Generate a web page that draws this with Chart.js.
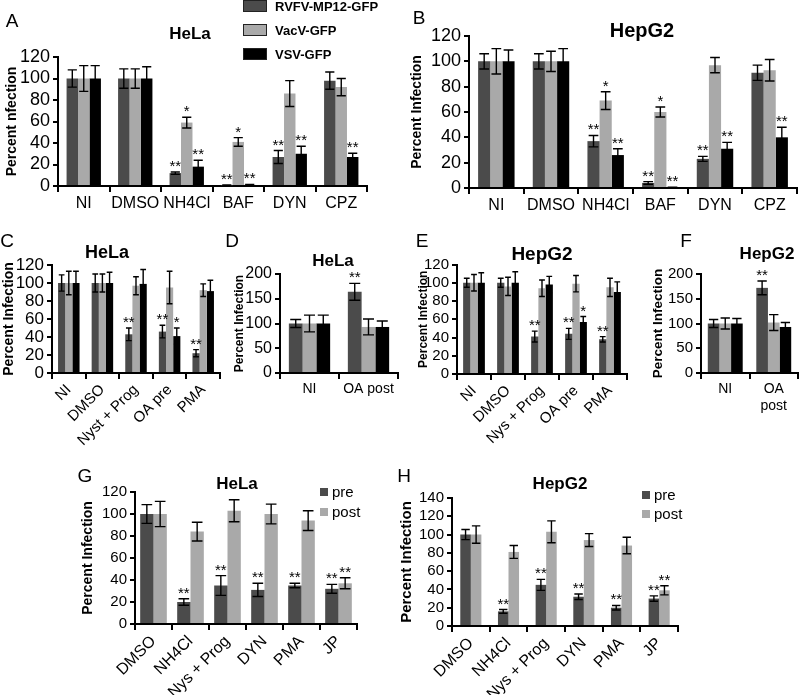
<!DOCTYPE html>
<html>
<head>
<meta charset="utf-8">
<script src="https://cdn.jsdelivr.net/npm/chart.js@4.4.1/dist/chart.umd.min.js"></script>
<style>
  body { margin: 0; background: #fff; }
  #wrap { position: relative; width: 800px; height: 695px; overflow: hidden; font-family: "Liberation Sans", Arial, sans-serif; color: #000; }
  canvas { position: absolute; }
  .lbl { position: absolute; transform: translate(-50%, -50%); white-space: nowrap; line-height: 1; }
  .letter { font-size: 19px; }
  .ttl { font-weight: bold; }
</style>
</head>
<body>
<div id="wrap">
  <canvas id="cA"></canvas>
  <canvas id="cB"></canvas>
  <canvas id="cC"></canvas>
  <canvas id="cD"></canvas>
  <canvas id="cE"></canvas>
  <canvas id="cF"></canvas>
  <canvas id="cG"></canvas>
  <canvas id="cH"></canvas>
</div>
<script>
const DARK = "#4b4b4b";
const LIGHT = "#a9a9a9";
const BLACK = "#000000";
const FONT = "'Liberation Sans', Arial, sans-serif";

const virusNames = ["RVFV-MP12-GFP", "VacV-GFP", "VSV-GFP"];
const timeNames = ["pre", "post"];

// A - HeLa
const catsA = ["NI", "DMSO", "NH4Cl", "BAF", "DYN", "CPZ"];
const rvfvA = [100, 100, 12, 0.6, 27, 98];
const rvfvErrA = [8, 9, 1, 0.3, 6, 8];
const vacvA = [100, 100, 59, 41, 86, 92];
const vacvErrA = [12, 9, 5, 4, 12, 8];
const vsvA = [100, 100, 18, 1, 30, 27];
const vsvErrA = [12, 11, 6, 0.5, 7, 3.5];
const rvfvStarsA = ["", "", "**", "**", "**", ""];
const vacvStarsA = ["", "", "*", "*", "", ""];
const vsvStarsA = ["", "", "**", "**", "**", "**"];

// B - HepG2
const catsB = ["NI", "DMSO", "NH4Cl", "BAF", "DYN", "CPZ"];
const rvfvB = [100, 100, 37, 4, 23, 91];
const rvfvErrB = [6, 6, 4.5, 1, 2, 6];
const vacvB = [100, 100, 69, 60, 97, 93];
const vacvErrB = [10, 8, 7, 4, 6, 8.5];
const vsvB = [100, 100, 26, 0.3, 31, 40];
const vsvErrB = [9, 10, 5, 0.3, 5, 8];
const rvfvStarsB = ["", "", "**", "**", "**", ""];
const vacvStarsB = ["", "", "*", "*", "", ""];
const vsvStarsB = ["", "", "**", "**", "**", "**"];

// C - HeLa
const catsC = ["NI", "DMSO", "Nyst + Prog", "OA pre", "PMA"];
const rvfvC = [100, 100, 43, 46, 22];
const rvfvErrC = [9, 10, 7, 7, 4];
const vacvC = [100, 100, 97, 95, 92];
const vacvErrC = [13, 10, 10, 18, 7];
const vsvC = [100, 100, 99, 41, 91];
const vsvErrC = [13, 12, 16, 9, 12];
const rvfvStarsC = ["", "", "**", "**", "**"];
const vsvStarsC = ["", "", "", "*", ""];

// D - HeLa
const catsD = ["NI", "OA post"];
const rvfvD = [100, 164];
const rvfvErrD = [8, 17];
const vacvD = [100, 93];
const vacvErrD = [17, 16];
const vsvD = [100, 93];
const vsvErrD = [17, 12];
const rvfvStarsD = ["", "**"];

// E - HepG2
const catsE = ["NI", "DMSO", "Nys + Prog", "OA pre", "PMA"];
const rvfvE = [100, 100, 41, 44, 38];
const rvfvErrE = [5, 5, 6, 6, 3];
const vacvE = [100, 96, 94, 99, 95];
const vacvErrE = [9, 10, 9, 9, 10];
const vsvE = [100, 100, 98, 57, 90];
const vsvErrE = [11, 12, 9, 6, 11];
const rvfvStarsE = ["", "", "**", "**", "**"];
const vsvStarsE = ["", "", "", "*", ""];

// F - HepG2
const catsF = ["NI", ["OA", "post"]];
const rvfvF = [100, 172];
const rvfvErrF = [8, 14];
const vacvF = [100, 102];
const vacvErrF = [11, 16];
const vsvF = [100, 93];
const vsvErrF = [10, 9];
const rvfvStarsF = ["", "**"];

// G - HeLa
const catsG = ["DMSO", "NH4Cl", "Nys + Prog", "DYN", "PMA", "JP"];
const preG = [100, 20, 35, 31, 35, 32];
const preErrG = [8.5, 3, 9, 6, 2, 4];
const postG = [100, 84, 103, 100, 94, 37];
const postErrG = [11.5, 8.5, 10, 9, 9, 5];
const preStarsG = ["", "**", "**", "**", "**", "**"];
const postStarsG = ["", "", "", "", "", "**"];

// H - HepG2
const catsH = ["DMSO", "NH4Cl", "Nys + Prog", "DYN", "PMA", "JP"];
const preH = [100, 16, 45, 32, 20, 30];
const preErrH = [5.5, 2, 6, 3, 2.5, 3];
const postH = [100, 81, 103, 94, 88, 39];
const postErrH = [9.5, 7, 12, 7, 9, 5];
const preStarsH = ["", "**", "**", "**", "**", "**"];
const postStarsH = ["", "", "", "", "", "**"];

// error bars + significance stars
const errorBars = {
    id: "errorBars",
    afterDatasetsDraw(chart) {
        const ctx = chart.ctx;
        const y = chart.scales.y;
        ctx.save();
        ctx.strokeStyle = "#000";
        ctx.fillStyle = "#000";
        ctx.lineWidth = 1.4;
        ctx.textAlign = "center";
        ctx.textBaseline = "alphabetic";
        ctx.font = "15px " + FONT;
        chart.data.datasets.forEach((ds, i) => {
            const meta = chart.getDatasetMeta(i);
            meta.data.forEach((bar, j) => {
                const v = ds.data[j];
                const e = ds.errors ? ds.errors[j] : 0;
                const top = y.getPixelForValue(v + e);
                const bot = y.getPixelForValue(Math.max(0, v - e));
                const half = bar.width * 0.4;
                ctx.beginPath();
                ctx.moveTo(bar.x, top);
                ctx.lineTo(bar.x, bot);
                ctx.moveTo(bar.x - half, top);
                ctx.lineTo(bar.x + half, top);
                ctx.moveTo(bar.x - half, bot);
                ctx.lineTo(bar.x + half, bot);
                ctx.stroke();
                if (ds.stars && ds.stars[j]) {
                    ctx.fillText(ds.stars[j], bar.x, top - 1);
                }
            });
        });
        ctx.restore();
    }
};

// legend drawn from the datasets
const boxLegend = {
    id: "boxLegend",
    afterDraw(chart) {
        const o = chart.options.plugins.boxLegend;
        if (!o || !o.display) return;
        const ctx = chart.ctx;
        ctx.save();
        ctx.textBaseline = "middle";
        ctx.textAlign = "left";
        ctx.font = o.font;
        chart.data.datasets.forEach((ds, i) => {
            const yy = o.y + i * o.gap;
            ctx.fillStyle = ds.backgroundColor;
            ctx.fillRect(o.x, yy, o.w, o.h);
            if (o.border) {
                ctx.strokeStyle = "#222";
                ctx.lineWidth = 1;
                ctx.strokeRect(o.x + 0.5, yy + 0.5, o.w - 1, o.h - 1);
            }
            ctx.fillStyle = "#000";
            ctx.fillText(ds.label, o.x + o.w + o.tx, yy + o.h / 2 + 1);
        });
        ctx.restore();
    }
};

function ds(label, data, errors, stars, color) {
    return { label: label, data: data, errors: errors, stars: stars, backgroundColor: color, borderWidth: 0, barPercentage: 1 };
}

function makePanel(id, p) {
    const cv = document.getElementById(id);
    cv.width = p.width;
    cv.height = p.height;
    cv.style.left = p.left + "px";
    cv.style.top = p.top + "px";
    const yW = p.axisX - p.left;
    const xH = p.top + p.height - p.zeroY;
    p.datasets.forEach(d => d.categoryPercentage = p.catPct);
    new Chart(cv, {
        type: "bar",
        data: { labels: p.labels, datasets: p.datasets },
        options: {
            responsive: false,
            animation: false,
            layout: { padding: { top: p.topY - p.top, right: p.left + p.width - p.axisEnd, left: 0, bottom: 0 } },
            plugins: {
                legend: { display: false },
                tooltip: { enabled: false },
                boxLegend: p.legend || { display: false }
            },
            scales: {
                x: {
                    grid: { drawOnChartArea: false, color: "#000", lineWidth: 2, tickLength: 6, offset: true },
                    border: { color: "#000", width: 2 },
                    ticks: { color: "#000", font: { family: FONT, size: p.xFont }, autoSkip: false, maxRotation: p.rot, minRotation: p.rot, padding: 2 },
                    afterFit: s => { s.height = xH; }
                },
                y: {
                    min: 0,
                    max: p.max,
                    ticks: { stepSize: p.step, autoSkip: false, color: "#000", font: { family: FONT, size: p.yFont }, padding: 3 },
                    grid: { drawOnChartArea: false, color: "#000", lineWidth: 2, tickLength: 5 },
                    border: { color: "#000", width: 2 },
                    title: { display: true, text: p.yTitle, color: "#000", font: { family: FONT, size: p.titleFont, weight: "bold" }, padding: { top: p.titlePad, bottom: 0 } },
                    afterFit: s => { s.width = yW; }
                }
            }
        },
        plugins: [errorBars, boxLegend]
    });
}

function addText(text, x, y, cls, size) {
    const d = document.createElement("div");
    d.className = "lbl " + cls;
    d.textContent = text;
    d.style.left = x + "px";
    d.style.top = y + "px";
    if (size) d.style.fontSize = size + "px";
    document.getElementById("wrap").appendChild(d);
}

makePanel("cA", {
    left: 0, top: 0, width: 400, height: 225, axisX: 58, axisEnd: 367, topY: 57, zeroY: 186,
    max: 120, step: 20, yFont: 18, xFont: 16, rot: 0, catPct: 0.667,
    yTitle: "Percent nfection", titleFont: 14, titlePad: 4,
    labels: catsA,
    datasets: [
        ds(virusNames[0], rvfvA, rvfvErrA, rvfvStarsA, DARK),
        ds(virusNames[1], vacvA, vacvErrA, vacvStarsA, LIGHT),
        ds(virusNames[2], vsvA, vsvErrA, vsvStarsA, BLACK)
    ],
    legend: { display: true, x: 243, y: 0, w: 24, h: 12, gap: 24, tx: 8, border: true, font: "bold 13px " + FONT }
});

makePanel("cB", {
    left: 405, top: 0, width: 395, height: 225, axisX: 469, axisEnd: 797, topY: 36, zeroY: 188,
    max: 120, step: 20, yFont: 18, xFont: 16, rot: 0, catPct: 0.667,
    yTitle: "Percent Infection", titleFont: 14, titlePad: 4,
    labels: catsB,
    datasets: [
        ds(virusNames[0], rvfvB, rvfvErrB, rvfvStarsB, DARK),
        ds(virusNames[1], vacvB, vacvErrB, vacvStarsB, LIGHT),
        ds(virusNames[2], vsvB, vsvErrB, vsvStarsB, BLACK)
    ]
});

makePanel("cC", {
    left: 0, top: 225, width: 225, height: 230, axisX: 52, axisEnd: 220, topY: 265, zeroY: 373,
    max: 120, step: 20, yFont: 17, xFont: 15, rot: 45, catPct: 0.64,
    yTitle: "Percent Infection", titleFont: 14, titlePad: 1,
    labels: catsC,
    datasets: [
        ds(virusNames[0], rvfvC, rvfvErrC, rvfvStarsC, DARK),
        ds(virusNames[1], vacvC, vacvErrC, null, LIGHT),
        ds(virusNames[2], vsvC, vsvErrC, vsvStarsC, BLACK)
    ]
});

makePanel("cD", {
    left: 228, top: 225, width: 174, height: 200, axisX: 280, axisEnd: 398, topY: 274, zeroY: 373,
    max: 200, step: 50, yFont: 16, xFont: 14, rot: 0, catPct: 0.7,
    yTitle: "Percent Infection", titleFont: 12, titlePad: 4,
    labels: catsD,
    datasets: [
        ds(virusNames[0], rvfvD, rvfvErrD, rvfvStarsD, DARK),
        ds(virusNames[1], vacvD, vacvErrD, null, LIGHT),
        ds(virusNames[2], vsvD, vsvErrD, null, BLACK)
    ]
});

makePanel("cE", {
    left: 412, top: 225, width: 222, height: 230, axisX: 457, axisEnd: 627, topY: 264.5, zeroY: 374,
    max: 120, step: 20, yFont: 15, xFont: 15, rot: 45, catPct: 0.64,
    yTitle: "Percent Infection", titleFont: 12, titlePad: 4,
    labels: catsE,
    datasets: [
        ds(virusNames[0], rvfvE, rvfvErrE, rvfvStarsE, DARK),
        ds(virusNames[1], vacvE, vacvErrE, null, LIGHT),
        ds(virusNames[2], vsvE, vsvErrE, vsvStarsE, BLACK)
    ]
});

makePanel("cF", {
    left: 646, top: 225, width: 154, height: 205, axisX: 701, axisEnd: 798, topY: 274, zeroY: 373,
    max: 200, step: 50, yFont: 15, xFont: 14, rot: 0, catPct: 0.72,
    yTitle: "Percent Infection", titleFont: 13.5, titlePad: 4,
    labels: catsF,
    datasets: [
        ds(virusNames[0], rvfvF, rvfvErrF, rvfvStarsF, DARK),
        ds(virusNames[1], vacvF, vacvErrF, null, LIGHT),
        ds(virusNames[2], vsvF, vsvErrF, null, BLACK)
    ]
});

makePanel("cG", {
    left: 76, top: 430, width: 320, height: 265, axisX: 135, axisEnd: 357, topY: 492, zeroY: 624,
    max: 120, step: 20, yFont: 15, xFont: 16, rot: 45, catPct: 0.72,
    yTitle: "Percent Infection", titleFont: 14, titlePad: 4,
    labels: catsG,
    datasets: [
        ds(timeNames[0], preG, preErrG, preStarsG, DARK),
        ds(timeNames[1], postG, postErrG, postStarsG, LIGHT)
    ],
    legend: { display: true, x: 320 - 76, y: 488 - 430, w: 8, h: 8, gap: 20, tx: 4, border: false, font: "15px " + FONT }
});

makePanel("cH", {
    left: 394, top: 430, width: 300, height: 265, axisX: 452, axisEnd: 678, topY: 498, zeroY: 626,
    max: 140, step: 20, yFont: 15, xFont: 16, rot: 45, catPct: 0.56,
    yTitle: "Percent Infection", titleFont: 15, titlePad: 4,
    labels: catsH,
    datasets: [
        ds(timeNames[0], preH, preErrH, preStarsH, DARK),
        ds(timeNames[1], postH, postErrH, postStarsH, LIGHT)
    ],
    legend: { display: true, x: 642 - 394, y: 491 - 430, w: 8, h: 8, gap: 19, tx: 4, border: false, font: "15px " + FONT }
});

// panel letters and titles
addText("A", 12, 20, "letter");
addText("HeLa", 190, 33, "ttl", 17);
addText("B", 419, 17, "letter");
addText("HepG2", 642, 30, "ttl", 20);
addText("C", 7, 240, "letter");
addText("HeLa", 107, 252, "ttl", 18);
addText("D", 232, 240, "letter");
addText("HeLa", 333, 260, "ttl", 17);
addText("E", 422, 240, "letter");
addText("HepG2", 542, 253, "ttl", 19);
addText("F", 686, 240, "letter");
addText("HepG2", 767, 253, "ttl", 17);
addText("G", 85, 475, "letter");
addText("HeLa", 237, 483, "ttl", 17);
addText("H", 404, 475, "letter");
addText("HepG2", 560, 483, "ttl", 17);
</script>
</body>
</html>
